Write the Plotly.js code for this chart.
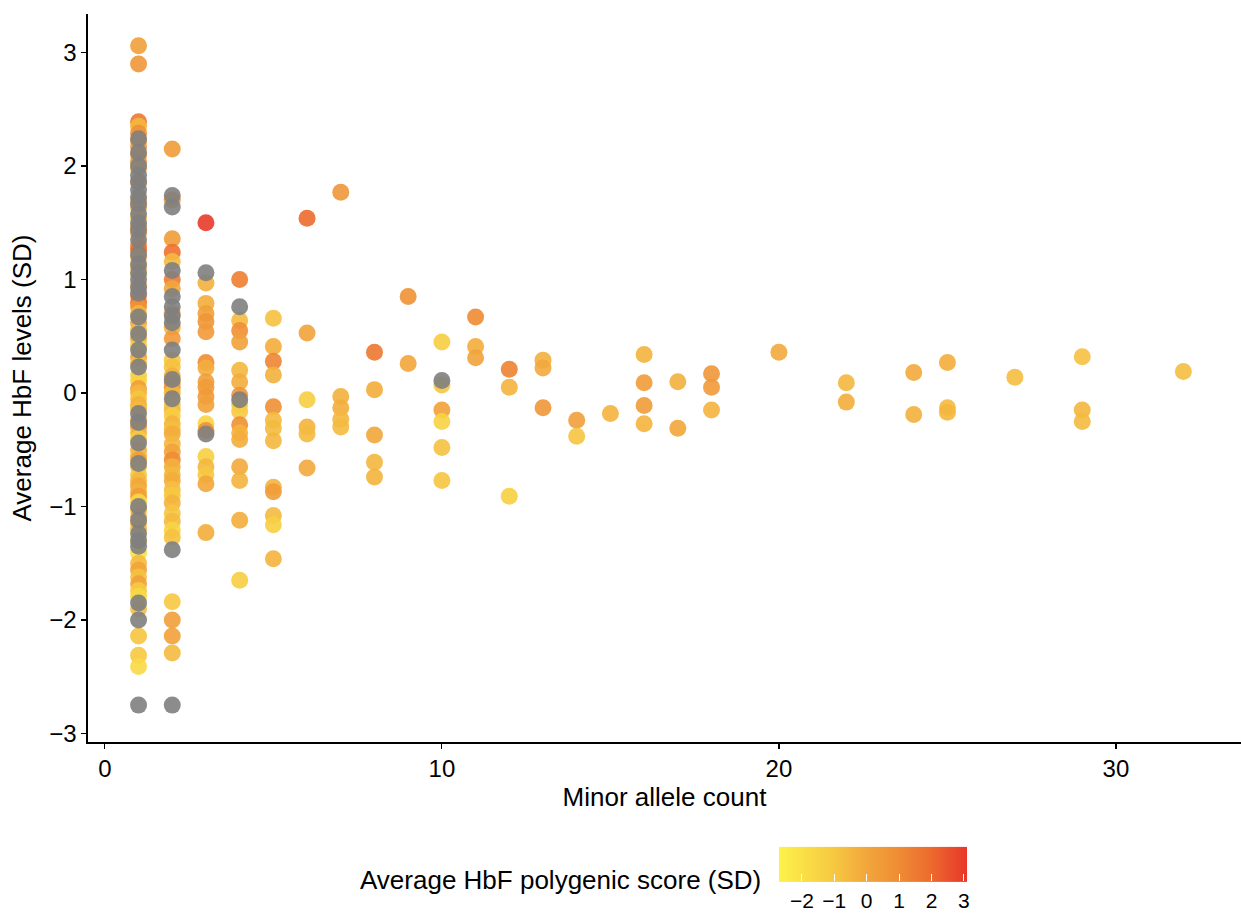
<!DOCTYPE html>
<html>
<head>
<meta charset="utf-8">
<script src="https://cdn.plot.ly/plotly-3.0.1.min.js"></script>
<style>html,body{margin:0;padding:0;background:#fff;}#chart{width:1241px;height:915px;}</style>
</head>
<body>
<div id="chart"></div>
<script>
// Colored points: minor allele count, average HbF level (SD), average HbF polygenic score (SD)
const macColored = [
  1,1,1,1,1,1,1,1,1,1,1,1,1,1,1,1,1,1,1,1,1,1,1,1,1,1,1,1,1,1,1,1,1,1,1,1,1,1,1,1,1,1,1,1,1,1,1,1,1,1,1,1,1,1,1,1,1,1,1,1,1,1,1,1,1,1,1,1,1,
  2,2,2,2,2,2,2,2,2,2,2,2,2,2,2,2,2,2,2,2,2,2,2,2,2,2,2,2,2,2,2,2,2,2,2,2,2,2,2,
  3,3,3,3,3,3,3,3,3,3,3,3,3,3,3,3,3,3,3,
  4,4,4,4,4,4,4,4,4,4,4,4,4,4,4,4,
  5,5,5,5,5,5,5,5,5,5,5,5,5,
  6,6,6,6,6,6,
  7,7,7,7,7,
  8,8,8,8,8,
  9,9,
  10,10,10,10,10,10,
  11,11,11,
  12,12,12,
  13,13,13,
  14,14,
  15,
  16,16,16,16,
  17,17,
  18,18,18,
  20,
  22,22,
  24,24,
  25,25,25,
  27,
  29,29,29,
  32
];
const hbfColored = [
  3.06,2.90,2.39,2.35,2.29,2.22,2.17,2.10,2.04,1.98,1.86,1.70,1.64,1.55,1.47,1.41,1.30,1.26,1.20,1.11,1.05,0.95,0.86,0.80,0.76,0.70,0.62,0.56,0.48,0.42,0.32,0.27,0.16,0.11,0.04,0.00,-0.05,-0.10,-0.14,-0.24,-0.30,-0.35,-0.40,-0.50,-0.55,-0.59,-0.65,-0.72,-0.77,-0.82,-0.87,-0.91,-0.96,-1.03,-1.09,-1.15,-1.20,-1.30,-1.41,-1.50,-1.56,-1.62,-1.68,-1.74,-1.79,-1.90,-2.14,-2.31,-2.41,
  2.15,1.70,1.36,1.24,1.16,1.00,0.92,0.70,0.58,0.48,0.29,0.23,0.15,0.09,0.05,0.00,-0.10,-0.15,-0.20,-0.27,-0.32,-0.36,-0.45,-0.52,-0.59,-0.65,-0.72,-0.77,-0.85,-0.90,-0.97,-1.06,-1.13,-1.21,-1.27,-1.84,-2.00,-2.14,-2.29,
  1.50,0.97,0.79,0.70,0.63,0.54,0.27,0.22,0.10,0.05,-0.03,-0.10,-0.27,-0.33,-0.56,-0.65,-0.72,-0.80,-1.23,
  1.00,0.64,0.55,0.45,0.20,0.10,-0.02,-0.10,-0.16,-0.28,-0.35,-0.41,-0.65,-0.77,-1.12,-1.65,
  0.66,0.41,0.28,0.16,-0.12,-0.24,-0.31,-0.42,-0.83,-0.87,-1.08,-1.16,-1.46,
  1.54,0.53,-0.06,-0.30,-0.36,-0.66,
  1.77,-0.03,-0.13,-0.23,-0.30,
  0.36,0.03,-0.37,-0.61,-0.74,
  0.85,0.26,
  0.45,0.07,-0.15,-0.25,-0.48,-0.77,
  0.67,0.41,0.31,
  0.21,0.05,-0.91,
  0.29,0.22,-0.13,
  -0.24,-0.38,
  -0.18,
  0.34,0.09,-0.11,-0.27,
  0.10,-0.31,
  0.17,0.05,-0.15,
  0.36,
  0.09,-0.08,
  0.18,-0.19,
  0.27,-0.13,-0.17,
  0.14,
  0.32,-0.15,-0.25,
  0.19
];
const pgsColored = [
  0.3,0.6,1.6,-0.5,0.8,0.2,0.7,0.4,0.9,-0.3,0.5,0.0,0.8,-0.6,0.2,0.9,1.2,2.0,-0.2,0.6,-0.8,0.1,1.0,1.8,0.8,-0.4,0.3,-0.6,0.0,-1.0,0.4,-0.7,-1.2,-1.4,0.3,-0.5,-0.9,-0.3,-0.6,0.2,0.6,-0.4,-1.1,-0.2,-0.6,0.3,-0.8,-1.0,-0.5,0.0,-0.3,0.3,-1.6,-0.7,0.1,-0.9,-0.4,-1.3,-2.0,-0.6,0.1,-0.8,0.2,-1.1,-1.6,-0.7,-0.9,-1.0,-1.7,
  0.4,0.6,0.4,1.8,-0.6,1.5,0.0,0.2,-0.4,0.5,-1.0,-0.8,-0.3,0.8,0.5,-0.5,-0.9,-0.6,-1.2,-0.4,-0.7,-0.2,-0.5,0.1,1.0,-0.3,-0.5,-0.2,-0.7,-1.0,-0.4,-0.9,-0.6,-1.5,-0.8,-1.0,0.3,0.2,-0.6,
  3.0,-0.3,-0.2,0.2,0.6,0.5,1.0,-0.2,0.3,0.4,0.5,0.2,-1.5,0.8,-1.3,-0.5,-1.0,0.0,-0.2,
  1.4,-0.6,0.9,0.2,-0.5,-0.2,0.7,-1.2,-1.1,0.9,-0.4,-0.2,-0.1,-0.4,-0.2,-1.2,
  -0.8,-0.2,1.2,-0.3,0.9,-0.6,-0.6,-0.5,-0.4,0.4,-0.6,-1.3,-0.4,
  2.0,0.1,-1.2,-0.4,-0.6,-0.1,
  0.6,-0.3,-0.2,-0.5,-0.6,
  1.6,-0.2,0.0,-0.5,-0.4,
  0.8,0.0,
  -1.2,-0.9,0.2,-1.4,-0.8,-0.9,
  1.1,-0.2,0.1,
  1.3,-0.4,-1.3,
  -0.3,-0.1,0.6,
  0.3,-0.9,
  -0.4,
  -0.4,0.4,0.4,-0.4,
  -0.3,0.0,
  0.6,0.5,-0.4,
  -0.1,
  -0.5,-0.2,
  -0.1,-0.3,
  -0.2,-0.6,-0.5,
  -0.7,
  -0.8,-0.5,-0.6,
  -0.7
];
// Points with missing polygenic score (drawn in grey)
const macNA = [
  1,1,1,1,1,1,1,1,1,1,1,1,1,1,1,1,1,1,1,1,1,1,1,1,1,1,1,1,1,1,1,1,1,1,
  2,2,2,2,2,2,2,2,2,2,2,2,
  3,3,
  4,4,
  10
];
const hbfNA = [
  2.24,2.12,2.00,1.92,1.86,1.79,1.73,1.67,1.58,1.50,1.44,1.35,1.22,1.14,1.06,1.00,0.93,0.88,0.67,0.52,0.38,0.23,-0.18,-0.26,-0.44,-0.62,-1.00,-1.12,-1.24,-1.30,-1.35,-1.85,-2.00,-2.75,
  1.74,1.64,1.08,0.85,0.76,0.68,0.62,0.38,0.12,-0.05,-1.38,-2.75,
  1.06,-0.36,
  0.76,-0.06,
  0.11
];
const xTicks = [0, 10, 20, 30];
const yTicks = [-3, -2, -1, 0, 1, 2, 3];
const pgsTicks = [-2, -1, 0, 1, 2, 3];

const colorscale = [
  [0.0, '#FDF24A'],
  [0.293, '#F6C841'],
  [0.466, '#F2A63B'],
  [0.638, '#EF8C34'],
  [0.81, '#EC6A2E'],
  [1.0, '#E8362A']
];

const font = 'Liberation Sans, Arial, Helvetica, sans-serif';

const traceColored = {
  type: 'scatter', mode: 'markers',
  x: macColored, y: hbfColored,
  marker: {
    size: 17, opacity: 0.9, line: {width: 0},
    color: pgsColored, colorscale: colorscale, cmin: -2.7, cmax: 3.1,
    showscale: true,
    colorbar: {
      orientation: 'h',
      thickness: 35, thicknessmode: 'pixels',
      len: 188, lenmode: 'pixels',
      x: 0.681, xanchor: 'center', xref: 'paper',
      y: -0.193, yanchor: 'middle', yref: 'paper',
      outlinewidth: 0,
      tickmode: 'array', tickvals: pgsTicks,
      ticks: 'inside', ticklen: 7, tickcolor: '#ffffff', tickwidth: 1,
      tickfont: {family: font, size: 21, color: '#000'},
      xpad: 0, ypad: 0
    }
  },
  hoverinfo: 'x+y', showlegend: false
};
const traceNA = {
  type: 'scatter', mode: 'markers',
  x: macNA, y: hbfNA,
  marker: {size: 17, opacity: 0.9, color: '#7f7f7f', line: {width: 0}},
  showlegend: false
};

const layout = {
  width: 1241, height: 915,
  margin: {l: 88, r: 0, t: 14, b: 173, autoexpand: false},
  paper_bgcolor: '#ffffff', plot_bgcolor: '#ffffff',
  font: {family: font, color: '#000'},
  showlegend: false,
  xaxis: {
    range: [-0.5, 33.71], tickmode: 'array', tickvals: xTicks,
    showgrid: false, zeroline: false,
    showline: true, linecolor: '#000', linewidth: 1.6,
    ticks: 'outside', ticklen: 5, tickcolor: '#000', tickwidth: 1.2,
    tickfont: {family: font, size: 24, color: '#000'},
    title: {text: 'Minor allele count', font: {family: font, size: 26, color: '#000'}, standoff: 0},
    automargin: false
  },
  yaxis: {
    range: [-3.075, 3.34], tickmode: 'array', tickvals: yTicks,
    showgrid: false, zeroline: false,
    showline: true, linecolor: '#000', linewidth: 1.6,
    ticks: 'outside', ticklen: 5, tickcolor: '#000', tickwidth: 1.2,
    tickfont: {family: font, size: 24, color: '#000'},
    title: {text: 'Average HbF levels (SD)', font: {family: font, size: 26, color: '#000'}, standoff: 10},
    automargin: false
  },
  annotations: [{
    text: 'Average HbF polygenic score (SD)',
    xref: 'paper', yref: 'paper',
    x: 0.5854, y: -0.1896, xanchor: 'right', yanchor: 'middle',
    showarrow: false,
    font: {family: font, size: 26, color: '#000'}
  }]
};

Plotly.newPlot('chart', [traceColored, traceNA], layout, {displayModeBar: false, staticPlot: true});
</script>
</body>
</html>
